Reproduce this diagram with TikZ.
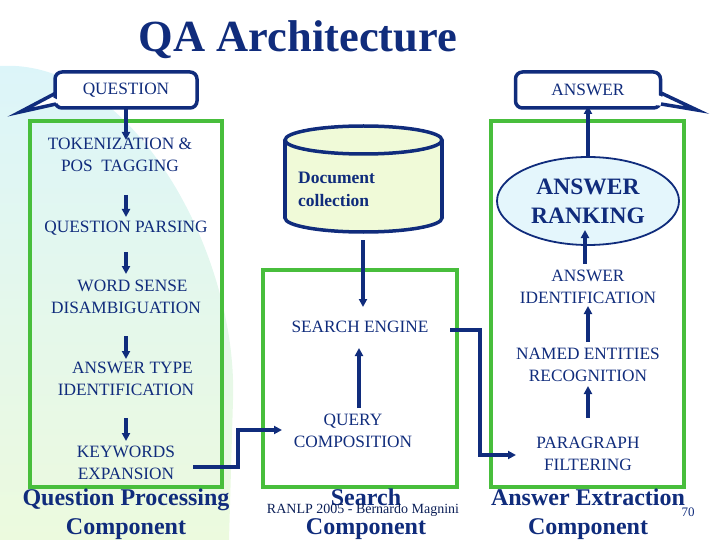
\documentclass[tikz,border=0pt]{standalone}
\usepackage{fontspec}
\setmainfont{Liberation Serif}
\usetikzlibrary{arrows.meta,shapes.geometric}
\definecolor{navy}{RGB}{16,44,124}
\definecolor{grn}{RGB}{72,190,60}
\definecolor{cyl}{RGB}{240,250,216}
\definecolor{ell}{RGB}{228,246,252}
\begin{document}
\begin{tikzpicture}[x=1pt,y=-1pt,
  txt/.style={text=navy,font=\fontsize{17.3}{22}\selectfont,align=center,inner sep=0},
  big/.style={text=navy,font=\bfseries\fontsize{24}{29}\selectfont,align=center,inner sep=0},
  arr/.style={draw=navy,line width=3.3pt,-{Triangle[length=8pt,width=8pt]}},
  box/.style={draw=grn,line width=4pt},
  call/.style={draw=navy,line width=3.5pt,fill=white,rounded corners=7pt}]
\useasboundingbox (0,0) rectangle (720,540);
% background blob
\shade[top color={rgb,255:red,220;green,245;blue,250},bottom color={rgb,255:red,236;green,250;blue,222}]
  (0,66) .. controls (130,58) and (238,250) .. (233,400) -- (229,540) -- (0,540) -- cycle;
% title
\node[text=navy,font=\bfseries\fontsize{44.5}{48}\selectfont,inner sep=0] (title) at (298,40) {QA Architecture};
% green boxes
\draw[box] (30,121) rectangle (222,487);
\draw[box] (263,270) rectangle (457,487);
\draw[box] (491,121) rectangle (684,487);
% callouts
\node[call,minimum width=142pt,minimum height=36pt,inner sep=0] (q) at (126,90) {};
\fill[white] (50,96) -- (20,112) -- (62,102) -- cycle;
\draw[navy,line width=3.5pt,line join=miter] (56,93) -- (20,112) -- (56,104);
\node[txt] at (126,90) {QUESTION};
\node[call,minimum width=145pt,minimum height=36pt,inner sep=0] (a) at (588,90) {};
\fill[white] (655,94) -- (697,110) -- (655,105) -- cycle;
\draw[navy,line width=3.5pt,line join=miter] (661,93) -- (697,110) -- (661,104);
\node[txt] at (588,90) {ANSWER};
% question processing
\node[txt] (tok) at (120,155) {TOKENIZATION \&\\POS\ \ TAGGING};
\node[txt] (qp) at (126,228) {QUESTION PARSING};
\node[txt] (wsd) at (126,297) {\ \ \ WORD SENSE\\DISAMBIGUATION};
\node[txt] (at) at (126,379) {\ \ \ ANSWER TYPE\\IDENTIFICATION};
\node[txt] (kw) at (126,463) {KEYWORDS\\EXPANSION};
\coordinate (tt) at (126,140);
\draw[arr] (126,108) -- (tt);
\draw[arr] (126,195) -- (126,217);
\draw[arr] (126,252) -- (126,274);
\draw[arr] (126,336) -- (126,359);
\draw[arr] (126,418) -- (126,441);
\node[big] at (126,514) {Question Processing\\Component};
% cylinder
\draw[navy,line width=3.5pt,fill=cyl] (363.5,218) ellipse[x radius=78.5,y radius=14];
\fill[cyl] (285,140) rectangle (442,218);
\draw[navy,line width=3.5pt] (285,140) -- (285,218) (442,140) -- (442,218);
\draw[navy,line width=3.5pt,fill=cyl] (363.5,140) ellipse[x radius=78.5,y radius=14];
\node[text=navy,font=\bfseries\fontsize{17.5}{23}\selectfont,align=left,inner sep=0,anchor=west] (doc) at (298,189) {Document\\collection};
% search
\node[txt] (se) at (360,327) {SEARCH ENGINE};
\node[txt] (qc) at (353,431) {QUERY\\COMPOSITION};
\draw[arr] (363,240) -- (363,307);
\draw[arr] (359,408) -- (359,348);
\coordinate (k1) at (238,467); \coordinate (k2) at (238,430);
\draw[arr] (193,467) -- (k1) -- (k2) -- (282,430);
\node[big] at (366,514) {Search\\Component};
\node[text=navy!70!black,font=\fontsize{14}{16}\selectfont,inner sep=0] at (363,510) {RANLP 2005 - Bernardo Magnini};
% answer
\node[txt] (pf) at (588,454) {PARAGRAPH\\FILTERING};
\node[txt] (ne) at (588,365) {NAMED ENTITIES\\RECOGNITION};
\node[txt] (ai) at (588,287) {ANSWER\\IDENTIFICATION};
\node[ellipse,draw=navy,line width=1.8pt,fill=ell,minimum width=182pt,minimum height=88pt,inner sep=0] (ar) at (588,201) {};
\node[big,font=\bfseries\fontsize{23.5}{29}\selectfont] at (588,201) {ANSWER\\RANKING};
\coordinate (s1) at (480,330); \coordinate (s2) at (480,455);
\draw[arr] (450,330) -- (s1) -- (s2) -- (516,455);
\draw[arr] (588,418) -- (588,386);
\draw[arr] (588,342) -- (588,306);
\draw[arr] (585,264) -- (585,230);
\draw[arr] (588,157) -- (588,106);
\node[big] at (588,514) {Answer Extraction\\Component};
\node[text=navy,font=\fontsize{13}{15}\selectfont,inner sep=0] at (688,512) {70};
\end{tikzpicture}
\end{document}
